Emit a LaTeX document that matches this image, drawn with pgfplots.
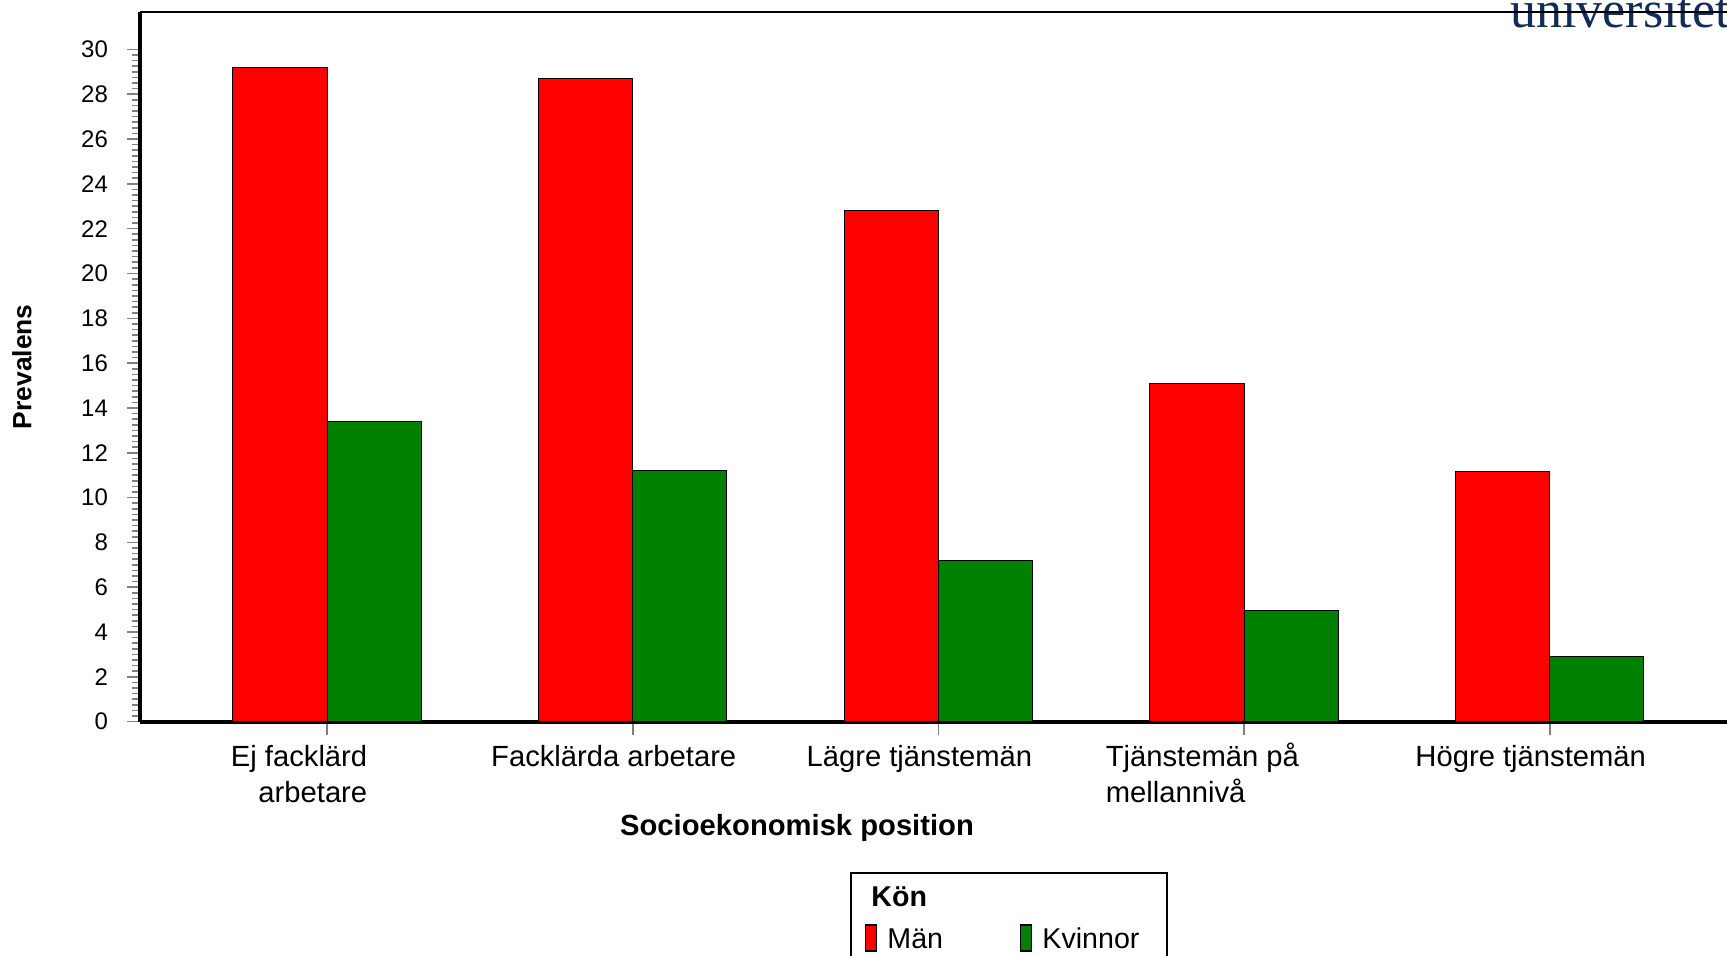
\documentclass[border=0pt]{standalone}
\usepackage{fontspec}
\setmainfont{Liberation Sans}
\newfontfamily\logofont{Liberation Serif}
\usepackage{pgfplots}
\pgfplotsset{compat=1.18}
\definecolor{manred}{RGB}{255,0,0}
\definecolor{kvgreen}{RGB}{0,128,0}
\definecolor{logoblue}{RGB}{18,44,88}
\pgfplotsset{
  /pgfplots/ybar legend/.style={/pgfplots/legend image code/.code={%
    \draw[##1, line width=0.7pt, draw=black] (0pt,-5.7pt) rectangle (5.5pt,7.3pt);}},
  narrowbar/.style={/pgfplots/legend image code/.code={%
    \draw[##1, line width=0.7pt, draw=black] (0pt,-5.7pt) rectangle (5.5pt,7.3pt);}},
}

\begin{document}
\begin{tikzpicture}
\useasboundingbox (0pt,0pt) rectangle (863.5pt,478pt);
\node[anchor=base west, inner sep=0pt, text=logoblue,
      font=\logofont\fontsize{26}{26}\selectfont] at (755pt,464pt) {universitet};
\begin{axis}[
    at={(70pt,117.15pt)}, anchor=south west,
    scale only axis,
    width=793.5pt, height=354.85pt,
    ybar=0pt, bar width=0.308,
    xmin=-0.612, xmax=4.58,
    ymin=0, ymax=31.67,
    axis x line=bottom, axis y line=left,
    axis line style={-, line width=2pt, black},
    clip=false,
    xtick={0,1,2,3,4},
    xticklabels={
      {\begin{tabular}{@{}r@{}}Ej facklärd\\arbetare\end{tabular}\hspace*{9pt}},
      {\begin{tabular}{@{}c@{}}Facklärda arbetare\end{tabular}},
      {\begin{tabular}{@{}c@{}}Lägre tjänstemän\end{tabular}},
      {\begin{tabular}{@{}l@{}}Tjänstemän på\\mellannivå\end{tabular}\hspace*{22.7pt}},
      {\begin{tabular}{@{}c@{}}Högre tjänstemän\end{tabular}}},
    ytick={0,2,...,30},
    minor y tick num=7,
    tick align=outside,
    major tick length=6.5pt,
    minor tick length=4pt,
    tick style={gray, line width=0.8pt},
    /pgf/number format/assume math mode=true,
    yticklabel style={font=\fontsize{12}{14}\selectfont, anchor=east, xshift=-6pt},
    xticklabel style={font=\fontsize{14.6}{17.8}\selectfont, anchor=north, xshift=-9.5pt},
    xlabel={Socioekonomisk position},
    xlabel style={at={(axis description cs:0.414,-0.1503)}, anchor=center,
                  font=\bfseries\fontsize{14.6}{17}\selectfont},
    ylabel={Prevalens},
    ylabel style={at={(axis description cs:-0.0744,0.5)}, anchor=center,
                  font=\bfseries\fontsize{13.2}{15}\selectfont},
    legend columns=2,
    legend cell align=left,
    legend style={at={(0.4474,-0.2118)}, anchor=north west,
                  draw=black, line width=1pt,
                  font=\fontsize{14.3}{17}\selectfont,
                  inner xsep=7pt, inner ysep=5pt, row sep=5pt,
                  /tikz/every odd column/.append style={column sep=3pt},
                  /tikz/every even column/.append style={column sep=36.5pt}},
]
\addlegendimage{empty legend}
\addlegendentry{\hspace*{-8pt}\textbf{Kön}}
\addlegendimage{empty legend}
\addlegendentry{}

\addplot[fill=manred, draw=black, line width=0.5pt, narrowbar]
    coordinates {(0,29.2) (1,28.7) (2,22.8) (3,15.1) (4,11.15)};
\addlegendentry{Män}
\addplot[fill=kvgreen, draw=black, line width=0.5pt, narrowbar]
    coordinates {(0,13.4) (1,11.2) (2,7.2) (3,4.95) (4,2.9)};
\addlegendentry{Kvinnor\hspace*{4.8pt}}

\draw[line width=1pt, black] (rel axis cs:0,1) -- (rel axis cs:1,1);
\end{axis}
\end{tikzpicture}
\end{document}
